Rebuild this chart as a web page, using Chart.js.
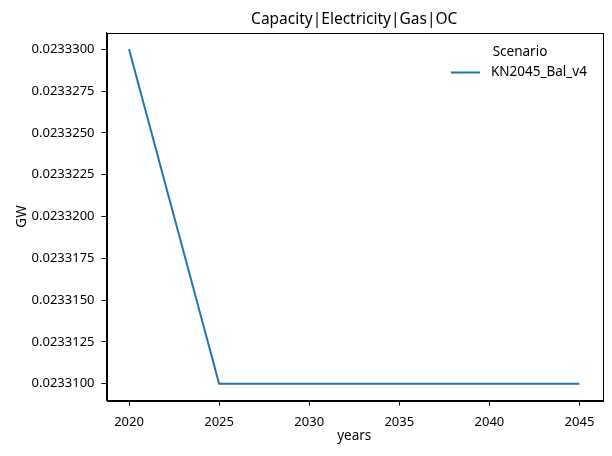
<!DOCTYPE html>
<html>
<head>
<meta charset="utf-8">
<script src="https://cdn.jsdelivr.net/npm/chart.js@4"></script>
<style>
html,body{margin:0;padding:0;background:#fff;}
#wrap{width:612px;height:456px;}
</style>
</head>
<body>
<div id="wrap"><canvas id="c" width="612" height="456"></canvas></div>
<script>
const years = [2020, 2025, 2030, 2035, 2040, 2045];
const capacity = [0.02333, 0.02331, 0.02331, 0.02331, 0.02331, 0.02331];
const seriesName = 'KN2045_Bal_v4';
const xTicks = [2020, 2025, 2030, 2035, 2040, 2045];
const yTicks = [0.02331, 0.0233125, 0.023315, 0.0233175, 0.02332, 0.0233225, 0.023325, 0.0233275, 0.02333];
const chartTitle = 'Capacity|Electricity|Gas|OC';
const legendTitle = 'Scenario';
const xLabel = 'years';
const yLabel = 'GW';

const FONT = "'Noto Sans', sans-serif";
const LINE = '#1f77b4';

const framePlugin = {
  id: 'frame',
  afterDraw(chart) {
    const ctx = chart.ctx, a = chart.chartArea;
    ctx.save();
    ctx.strokeStyle = '#000';
    ctx.lineWidth = 1;
    ctx.strokeRect(Math.round(a.left) + 0.5, Math.round(a.top) + 0.5, Math.round(a.right - a.left), Math.round(a.bottom - a.top));
    ctx.fillStyle = '#000';
    ctx.font = '15.5px ' + FONT;
    ctx.textAlign = 'center';
    ctx.textBaseline = 'alphabetic';
    ctx.fillText(chartTitle, (a.left + a.right) / 2, 24);
    ctx.font = '13.5px ' + FONT;
    ctx.textAlign = 'center';
    ctx.textBaseline = 'middle';
    ctx.fillText(legendTitle, 520, 52);
    ctx.strokeStyle = chart.data.datasets[0].borderColor;
    ctx.lineWidth = 2;
    ctx.beginPath();
    ctx.moveTo(451, 72.5);
    ctx.lineTo(480, 72.5);
    ctx.stroke();
    ctx.textAlign = 'left';
    ctx.fillText(chart.data.datasets[0].label, 491, 72);
    ctx.restore();
  }
};

new Chart(document.getElementById('c'), {
  type: 'line',
  data: {
    datasets: [{
      label: seriesName,
      data: years.map((y, i) => ({x: y, y: capacity[i]})),
      borderColor: LINE,
      backgroundColor: LINE,
      borderWidth: 2,
      pointRadius: 0,
      tension: 0,
      fill: false
    }]
  },
  options: {
    responsive: false,
    animation: false,
    devicePixelRatio: 1,
    layout: {padding: {top: 32.5, right: 10, left: 0, bottom: 0}},
    plugins: {
      legend: {display: false},
      title: {display: false},
      tooltip: {enabled: false}
    },
    scales: {
      x: {
        type: 'linear',
        min: 2018.75,
        max: 2046.25,
        afterBuildTicks: s => { s.ticks = xTicks.map(v => ({value: v})); },
        afterFit: s => { s.height = 55.5; },
        ticks: {
          color: '#000',
          font: {family: FONT, size: 13},
          padding: 9,
          maxRotation: 0,
          callback: v => String(v)
        },
        grid: {display: true, drawOnChartArea: false, drawTicks: true, tickLength: 5, color: '#000', tickColor: '#000'},
        border: {display: true, color: '#000', width: 1},
        title: {display: true, text: xLabel, color: '#000', font: {family: FONT, size: 13.5}, padding: {top: 0, bottom: 12}}
      },
      y: {
        type: 'linear',
        min: 0.023309,
        max: 0.023331,
        afterBuildTicks: s => { s.ticks = yTicks.map(v => ({value: v})); },
        afterFit: s => { s.width = 106.5; },
        ticks: {
          color: '#000',
          font: {family: FONT, size: 13},
          padding: 7,
          callback: v => Number(v).toFixed(7)
        },
        grid: {display: true, drawOnChartArea: false, drawTicks: true, tickLength: 5, color: '#000', tickColor: '#000'},
        border: {display: true, color: '#000', width: 1},
        title: {display: true, text: yLabel, color: '#000', font: {family: FONT, size: 13.5}, padding: {top: 14, bottom: 0}}
      }
    }
  },
  plugins: [framePlugin]
});
</script>
</body>
</html>
